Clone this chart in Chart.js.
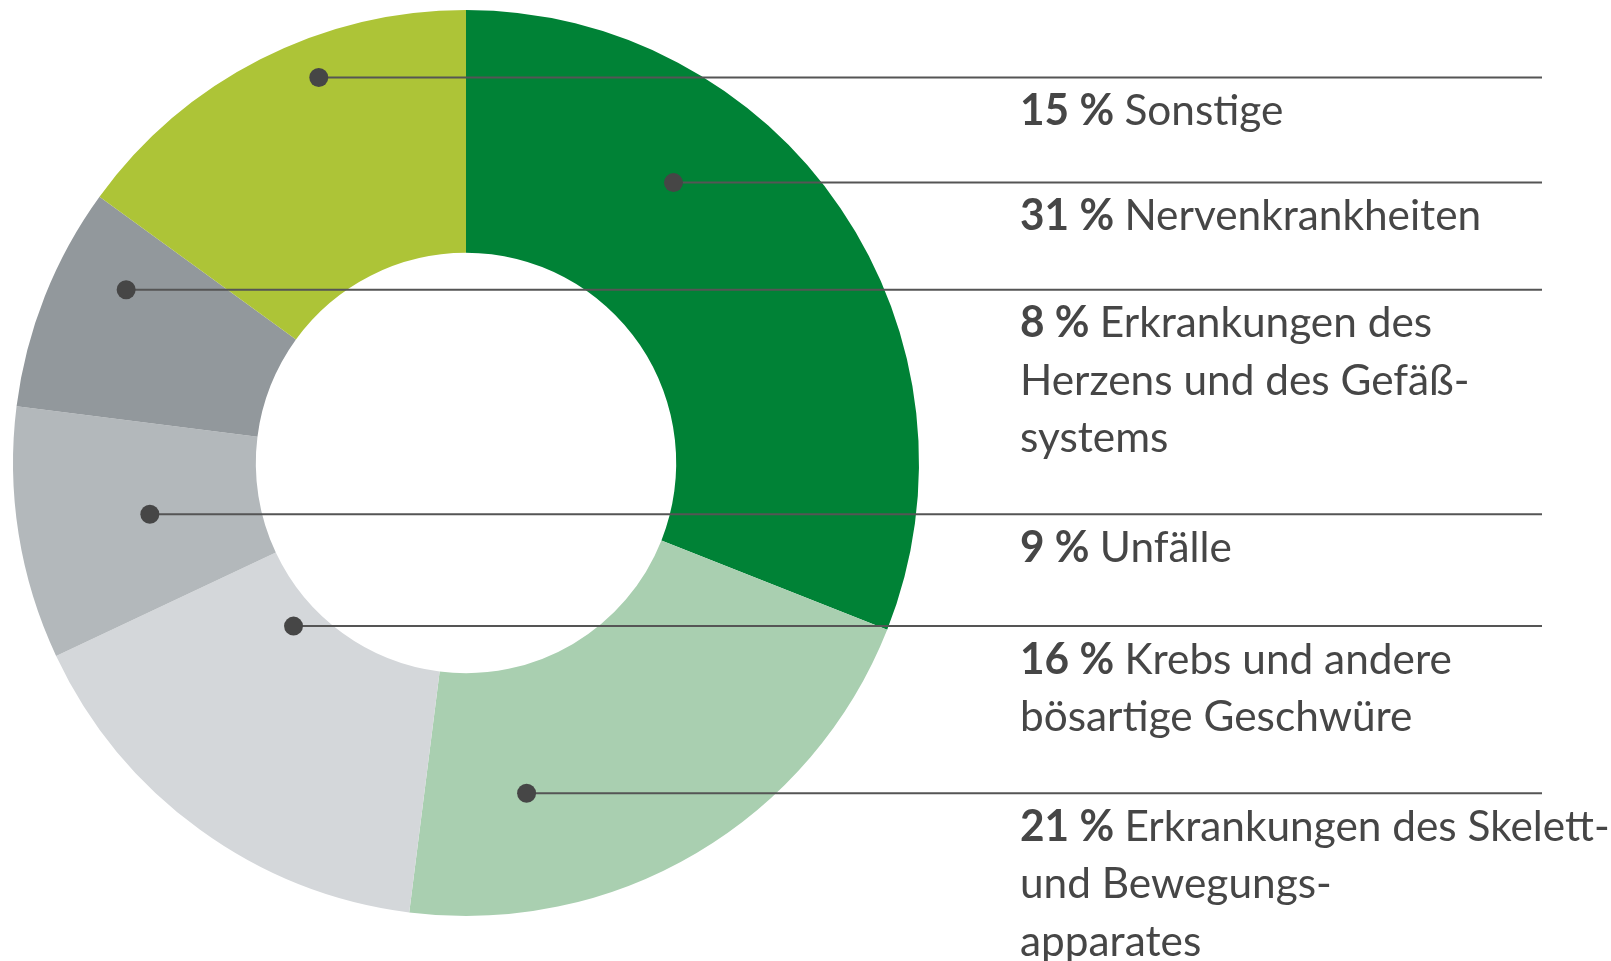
<!DOCTYPE html>
<html>
<head>
<meta charset="utf-8">
<script src="https://cdn.jsdelivr.net/npm/chart.js@4"></script>
<style>
  html, body { margin: 0; padding: 0; background: #ffffff; }
  #wrap { width: 1611px; height: 961px; position: relative; }
</style>
</head>
<body>
<div id="wrap"><canvas id="donut_chart"></canvas></div>
<script>
const categories = [
    'Nervenkrankheiten',
    'Erkrankungen des Skelett- und Bewegungsapparates',
    'Krebs und andere bösartige Geschwüre',
    'Unfälle',
    'Erkrankungen des Herzens und des Gefäßsystems',
    'Sonstige'
];
const share_values = [31, 21, 16, 9, 8, 15];
// label text broken into lines the way the original sets them
const label_lines = [
    ['Nervenkrankheiten'],
    ['Erkrankungen des Skelett-', 'und Bewegungs-', 'apparates'],
    ['Krebs und andere', 'bösartige Geschwüre'],
    ['Unfälle'],
    ['Erkrankungen des', 'Herzens und des Gefäß-', 'systems'],
    ['Sonstige']
];

const dark_green = '#008236';
const pale_green = '#a9cfb0';
const light_grey = '#d4d7da';
const mid_grey = '#b3b8bb';
const dark_grey = '#92989c';
const lime = '#adc437';
const ink = '#464646';

const label_font = "Lato, 'Open Sans', sans-serif";

// dots, leader lines and the text column on the right
const leaderPlugin = {
    id: 'leaders',
    afterDatasetsDraw(chart, args, opts) {
        const ctx = chart.ctx;
        const meta = chart.getDatasetMeta(0);
        meta.data.forEach((arc, i) => {
            const p = arc.getProps(['x', 'y', 'outerRadius'], true);
            const ang = (opts.dotAngle[i] - 90) * Math.PI / 180;
            const r = opts.dotRadius[i] * p.outerRadius;
            const px = p.x + r * Math.cos(ang);
            const py = p.y + r * Math.sin(ang);

            ctx.save();
            ctx.strokeStyle = opts.lineColor;
            ctx.lineWidth = 2;
            ctx.beginPath();
            ctx.moveTo(px, py);
            ctx.lineTo(opts.lineEnd, py);
            ctx.stroke();

            ctx.fillStyle = ink;
            ctx.beginPath();
            ctx.arc(px, py, 9.5, 0, Math.PI * 2);
            ctx.fill();

            ctx.textBaseline = 'alphabetic';
            ctx.textAlign = 'left';
            const lines = label_lines[i];
            lines.forEach((line, j) => {
                const by = py + opts.firstBaseline + j * opts.lineHeight;
                ctx.save();
                ctx.translate(opts.textX, by);
                ctx.scale(opts.squeeze, 1);
                let x = 0;
                if (j === 0) {
                    ctx.font = 'bold ' + opts.fontSize + 'px ' + label_font;
                    const pct = share_values[i] + ' %';
                    ctx.fillText(pct, 0, 0);
                    x = ctx.measureText(pct + ' ').width;
                }
                ctx.font = opts.fontSize + 'px ' + label_font;
                ctx.fillText(line, x, 0);
                ctx.restore();
            });
            ctx.restore();
        });
    }
};

const donut_config = {
    type: 'doughnut',
    data: {
        labels: categories,
        datasets: [{
            data: share_values,
            backgroundColor: [dark_green, pale_green, light_grey, mid_grey, dark_grey, lime],
            borderWidth: 0,
            hoverOffset: 0
        }]
    },
    options: {
        responsive: true,
        maintainAspectRatio: false,
        animation: false,
        cutout: '46.4%',
        layout: {
            padding: { left: 13, top: 10, right: 692, bottom: 45 }
        },
        plugins: {
            legend: { display: false },
            tooltip: { enabled: false },
            leaders: {
                dotAngle: [36.5, 169.6, 226.6, 260.8, 297.0, 339.1],
                dotRadius: [0.770, 0.741, 0.524, 0.707, 0.842, 0.911],
                lineEnd: 1542,
                lineColor: '#555555',
                textX: 1020,
                firstBaseline: 47.5,
                lineHeight: 57.5,
                fontSize: 43,
                squeeze: 0.985
            }
        }
    },
    plugins: [leaderPlugin]
};

const ctx = document.getElementById('donut_chart');
const donut_chart = new Chart(ctx, donut_config);
</script>
</body>
</html>
